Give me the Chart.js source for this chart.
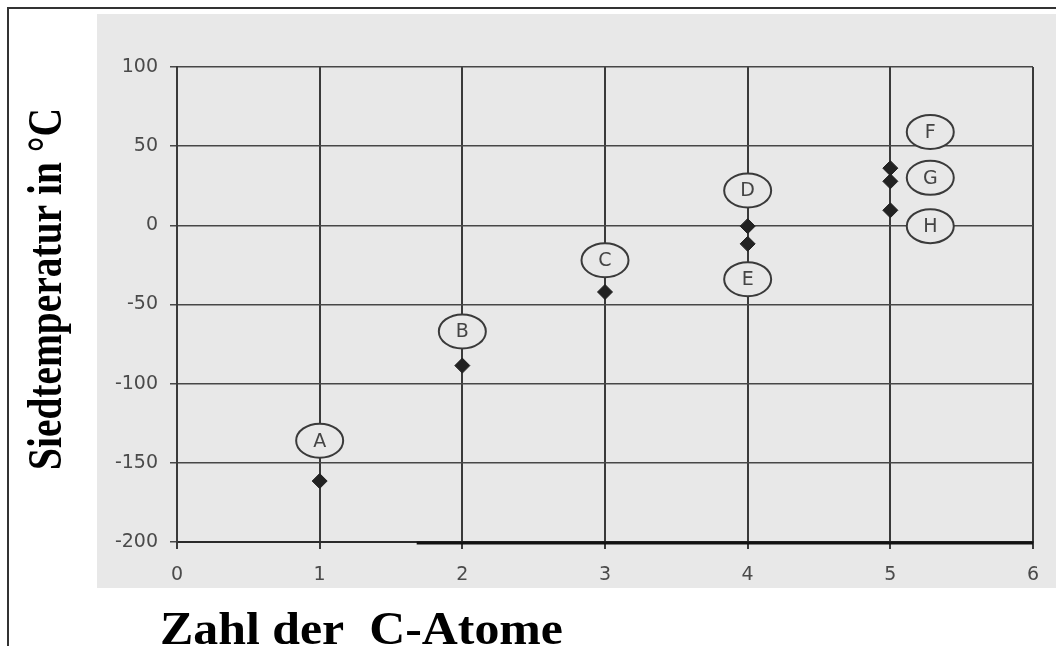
<!DOCTYPE html>
<html>
<head>
<meta charset="utf-8">
<script src="https://cdn.jsdelivr.net/npm/chart.js@4/dist/chart.umd.min.js"></script>
<style>
  html, body { margin: 0; padding: 0; background: #ffffff; }
  #wrap { position: absolute; left: 0; top: 0; width: 1056px; height: 646px; }
</style>
</head>
<body>
<div id="wrap"><canvas id="c"></canvas></div>
<script>
// ---- data ----
const carbonAtoms   = [1, 2, 3, 4, 4, 5, 5, 5];
const boilingPoints = [-161.5, -88.6, -42.1, -0.5, -11.7, 36.1, 27.8, 9.5];

const labelLetters = ['A', 'B', 'C', 'D', 'E', 'F', 'G', 'H'];
const labelX       = [1, 2, 3, 4, 4, 5.28, 5.28, 5.28];
const labelY       = [-136, -67, -22, 22, -34, 59, 30, -0.5];

const xTicks = [0, 1, 2, 3, 4, 5, 6];
const yTicks = [-200, -150, -100, -50, 0, 50, 100];

const yTitle = 'Siedtemperatur in °C';
const xTitle = 'Zahl der  C-Atome';

const baseLineFrom = 1.68; // heavy scanned baseline segment start (x value)

// ---- plugins ----
const paperPlugin = {
  id: 'paper',
  beforeDraw(chart) {
    const ctx = chart.ctx;
    ctx.save();
    ctx.fillStyle = '#ffffff';
    ctx.fillRect(0, 0, chart.width, chart.height);
    ctx.fillStyle = '#e8e8e8';
    ctx.fillRect(97, 14, chart.width - 97, 574);
    ctx.strokeStyle = '#333333';
    ctx.lineWidth = 2;
    ctx.beginPath();
    ctx.moveTo(8, chart.height + 5);
    ctx.lineTo(8, 8);
    ctx.lineTo(chart.width + 5, 8);
    ctx.stroke();
    ctx.restore();
  },
  afterDraw(chart) {
    const ctx = chart.ctx;
    const xs = chart.scales.x, ys = chart.scales.y;
    ctx.save();
    // heavy baseline segment
    ctx.strokeStyle = '#111111';
    ctx.lineWidth = 3;
    ctx.beginPath();
    ctx.moveTo(xs.getPixelForValue(baseLineFrom), ys.getPixelForValue(-200) + 1);
    ctx.lineTo(xs.getPixelForValue(6), ys.getPixelForValue(-200) + 1);
    ctx.stroke();

    // y title
    ctx.fillStyle = '#000000';
    ctx.font = 'bold 48px "Liberation Serif", "Times New Roman", serif';
    ctx.textAlign = 'center';
    ctx.textBaseline = 'alphabetic';
    let w = ctx.measureText(yTitle).width;
    ctx.translate(61, 289);
    ctx.rotate(-Math.PI / 2);
    ctx.scale(362 / w, 1);
    ctx.fillText(yTitle, 0, 0);
    ctx.restore();

    ctx.save();
    ctx.fillStyle = '#000000';
    ctx.font = 'bold 46px "Liberation Serif", "Times New Roman", serif';
    ctx.textAlign = 'left';
    ctx.textBaseline = 'alphabetic';
    w = ctx.measureText(xTitle).width;
    ctx.translate(160, 644);
    ctx.scale(403 / w, 1);
    ctx.fillText(xTitle, 0, 0);
    ctx.restore();
  },
  afterDatasetsDraw(chart) {
    const ctx = chart.ctx;
    const xs = chart.scales.x, ys = chart.scales.y;
    ctx.save();
    for (let i = 0; i < labelLetters.length; i++) {
      const px = xs.getPixelForValue(labelX[i]);
      const py = ys.getPixelForValue(labelY[i]);
      ctx.beginPath();
      ctx.ellipse(px, py, 23.5, 17, 0, 0, Math.PI * 2);
      ctx.fillStyle = '#e8e8e8';
      ctx.fill();
      ctx.lineWidth = 2;
      ctx.strokeStyle = '#3a3a3a';
      ctx.stroke();
      ctx.fillStyle = '#444444';
      ctx.font = '19px "DejaVu Sans", Arial, sans-serif';
      ctx.textAlign = 'center';
      ctx.textBaseline = 'middle';
      ctx.fillText(labelLetters[i], px, py + 1);
    }
    ctx.restore();
  }
};

const points = carbonAtoms.map((x, i) => ({ x: x, y: boilingPoints[i] }));

new Chart(document.getElementById('c'), {
  type: 'scatter',
  data: {
    datasets: [{
      label: 'Siedetemperatur',
      data: points,
      pointStyle: 'rectRot',
      pointRadius: 7.5,
      pointHoverRadius: 7.5,
      backgroundColor: '#222222',
      borderColor: '#222222',
      borderWidth: 1
    }]
  },
  options: {
    responsive: true,
    maintainAspectRatio: false,
    animation: false,
    events: [],
    layout: { padding: { left: 97, top: 67, right: 23, bottom: 54 } },
    plugins: {
      legend: { display: false },
      tooltip: { enabled: false },
      title: { display: false }
    },
    scales: {
      x: {
        type: 'linear',
        min: 0, max: 6,
        afterBuildTicks(scale) { scale.ticks = xTicks.map(v => ({ value: v })); },
        afterFit(scale) { scale.height = 50; },
        ticks: {
          color: '#4a4a4a',
          font: { family: '"DejaVu Sans", Arial, sans-serif', size: 19 },
          padding: 15
        },
        grid: { color: '#3a3a3a', lineWidth: 2, tickLength: 7, drawTicks: true },
        border: { display: true, color: '#2a2a2a', width: 2 }
      },
      y: {
        type: 'linear',
        min: -200, max: 100,
        afterBuildTicks(scale) { scale.ticks = yTicks.map(v => ({ value: v })); },
        afterFit(scale) { scale.width = 80; },
        ticks: {
          color: '#4a4a4a',
          font: { family: '"DejaVu Sans", Arial, sans-serif', size: 19 },
          padding: 12
        },
        grid: { color: '#474747', lineWidth: 1.5, tickLength: 7, drawTicks: true },
        border: { display: true, color: '#3a3a3a', width: 2 }
      }
    }
  },
  plugins: [paperPlugin]
});
</script>
</body>
</html>
